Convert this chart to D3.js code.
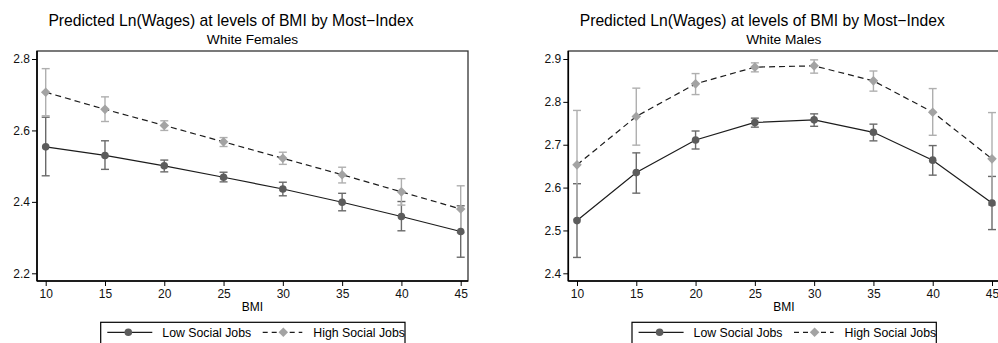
<!DOCTYPE html>
<html>
<head>
<meta charset="utf-8">
<script src="https://cdn.jsdelivr.net/npm/d3@7"></script>
<style>
  body { margin: 0; background: #fff; }
  svg { display: block; font-family: "Liberation Sans", Arial, sans-serif; }
</style>
</head>
<body>
<div id="chart"></div>
<script>
/**
 * DATA
 * */
const bmi = [10, 15, 20, 25, 30, 35, 40, 45];

// White Females
const femLow = [2.554, 2.530, 2.501, 2.469, 2.436, 2.399, 2.359, 2.317];
const femLowLo = [2.473, 2.491, 2.484, 2.456, 2.417, 2.375, 2.319, 2.245];
const femLowHi = [2.637, 2.571, 2.517, 2.483, 2.455, 2.424, 2.401, 2.389];
const femHigh = [2.707, 2.659, 2.614, 2.568, 2.522, 2.476, 2.428, 2.380];
const femHighLo = [2.641, 2.625, 2.600, 2.555, 2.505, 2.453, 2.391, 2.314];
const femHighHi = [2.773, 2.694, 2.627, 2.580, 2.539, 2.497, 2.465, 2.445];

// White Males
const maleLow = [2.523, 2.635, 2.711, 2.752, 2.758, 2.729, 2.664, 2.564];
const maleLowLo = [2.437, 2.587, 2.690, 2.741, 2.743, 2.709, 2.629, 2.502];
const maleLowHi = [2.609, 2.681, 2.732, 2.762, 2.772, 2.748, 2.698, 2.626];
const maleHigh = [2.653, 2.766, 2.842, 2.881, 2.884, 2.849, 2.776, 2.667];
const maleHighLo = [2.526, 2.699, 2.817, 2.870, 2.867, 2.825, 2.722, 2.559];
const maleHighHi = [2.780, 2.832, 2.866, 2.891, 2.898, 2.872, 2.831, 2.775];

const femTicks = [2.2, 2.4, 2.6, 2.8];
const maleTicks = [2.4, 2.5, 2.6, 2.7, 2.8, 2.9];
const xTicks = [10, 15, 20, 25, 30, 35, 40, 45];

const titleText = "Predicted Ln(Wages) at levels of BMI by Most\u2212Index";
const seriesNames = ["Low Social Jobs", "High Social Jobs"];

/**
 * CONSTANTS
 * */
const W = 998, H = 343;
const boxW = 431, boxTop = 51, boxBottom = 281;

const lowMark = "#5c5c5c", lowBar = "#6a6a6a";
const highMark = "#a3a3a3", highBar = "#afafaf";
const lineCol = "#1c1c1c";

const svg = d3.select("#chart").append("svg")
  .attr("width", W).attr("height", H);

function panel(left, subtitle, yDomain, yTicks, low, lowLo, lowHi, high, highLo, highHi) {
  const g = svg.append("g");

  const x = d3.scaleLinear().domain([10, 45]).range([left + 8.7, left + 423.7]);
  const y = d3.scaleLinear().domain(yDomain).range([273.3, 59]);

  // titles
  g.append("text")
    .attr("x", left + 194).attr("y", 26)
    .attr("text-anchor", "middle")
    .style("font-size", "15.7px")
    .text(titleText);
  g.append("text")
    .attr("x", left + boxW / 2).attr("y", 44)
    .attr("text-anchor", "middle")
    .style("font-size", "13.7px")
    .text(subtitle);

  // plot region box
  g.append("rect")
    .attr("x", left).attr("y", boxTop)
    .attr("width", boxW).attr("height", boxBottom - boxTop)
    .attr("fill", "none").attr("stroke", "#333").attr("stroke-width", 1.3);

  // axes
  const yAxis = g.append("g")
    .attr("transform", `translate(${left},0)`)
    .call(d3.axisLeft(y).tickValues(yTicks).tickSize(5).tickPadding(2).tickFormat(d3.format(".1f")));
  const xAxis = g.append("g")
    .attr("transform", `translate(0,${boxBottom})`)
    .call(d3.axisBottom(x).tickValues(xTicks).tickSize(5).tickPadding(3).tickFormat(d3.format("d")));
  [yAxis, xAxis].forEach(a => {
    a.select(".domain").remove();
    a.selectAll("line").attr("stroke", "#000").attr("stroke-width", 1);
    a.selectAll("text").attr("fill", "#111").style("font-size", "12px").style("font-family", "Liberation Sans, Arial, sans-serif");
  });
  g.append("line").attr("x1", left).attr("x2", left).attr("y1", boxTop).attr("y2", boxBottom)
    .attr("stroke", "#000").attr("stroke-width", 1.6);
  g.append("line").attr("x1", left).attr("x2", left + boxW).attr("y1", boxBottom).attr("y2", boxBottom)
    .attr("stroke", "#000").attr("stroke-width", 1.6);

  g.append("text")
    .attr("x", left + boxW / 2).attr("y", 310.5)
    .attr("text-anchor", "middle")
    .style("font-size", "12px")
    .text("BMI");

  // error bars
  function caps(lo, hi, col) {
    const cg = g.append("g").attr("stroke", col).attr("stroke-width", 1.4);
    bmi.forEach((b, i) => {
      cg.append("line").attr("x1", x(b)).attr("x2", x(b)).attr("y1", y(lo[i])).attr("y2", y(hi[i]));
      [lo[i], hi[i]].forEach(v => {
        cg.append("line").attr("x1", x(b) - 4).attr("x2", x(b) + 4).attr("y1", y(v)).attr("y2", y(v));
      });
    });
  }
  caps(lowLo, lowHi, lowBar);
  caps(highLo, highHi, highBar);

  const line = d3.line().x((d, i) => x(bmi[i])).y(d => y(d));

  // low series
  g.append("path").datum(low).attr("d", line)
    .attr("fill", "none").attr("stroke", lineCol).attr("stroke-width", 1.2);
  g.selectAll(null).data(low).join("circle")
    .attr("cx", (d, i) => x(bmi[i])).attr("cy", d => y(d))
    .attr("r", 3.8).attr("fill", lowMark);

  // high series
  g.append("path").datum(high).attr("d", line)
    .attr("fill", "none").attr("stroke", lineCol).attr("stroke-width", 1.2)
    .attr("stroke-dasharray", "6,4");
  const diamond = d3.symbol().type(d3.symbolDiamond2).size(58);
  g.selectAll(null).data(high).join("path")
    .attr("d", diamond)
    .attr("transform", (d, i) => `translate(${x(bmi[i])},${y(d)})`)
    .attr("fill", highMark);

  // legend (box runs past the bottom edge, as in the original)
  const lg = g.append("g").attr("transform", `translate(${left + 63.7},322.3)`);
  lg.append("rect").attr("x", 0).attr("y", 0).attr("width", 304.3).attr("height", 26)
    .attr("fill", "none").attr("stroke", "#000").attr("stroke-width", 1.2);
  lg.append("line").attr("x1", 6.6).attr("x2", 51.6).attr("y1", 10).attr("y2", 10)
    .attr("stroke", lineCol).attr("stroke-width", 1.2);
  lg.append("circle").attr("cx", 27.6).attr("cy", 10).attr("r", 3.8).attr("fill", lowMark);
  lg.append("text").attr("x", 61.6).attr("y", 14.3).style("font-size", "12.3px").text(seriesNames[0]);
  lg.append("line").attr("x1", 162).attr("x2", 201.6).attr("y1", 10).attr("y2", 10)
    .attr("stroke", lineCol).attr("stroke-width", 1.2).attr("stroke-dasharray", "5,4");
  lg.append("path").attr("d", diamond).attr("transform", "translate(182.6,10)").attr("fill", highMark);
  lg.append("text").attr("x", 212.6).attr("y", 14.3).style("font-size", "12.3px").text(seriesNames[1]);
}

panel(37, "White Females", [2.2, 2.8], femTicks, femLow, femLowLo, femLowHi, femHigh, femHighLo, femHighHi);
panel(568.3, "White Males", [2.4, 2.9], maleTicks, maleLow, maleLowLo, maleLowHi, maleHigh, maleHighLo, maleHighHi);
</script>
</body>
</html>
